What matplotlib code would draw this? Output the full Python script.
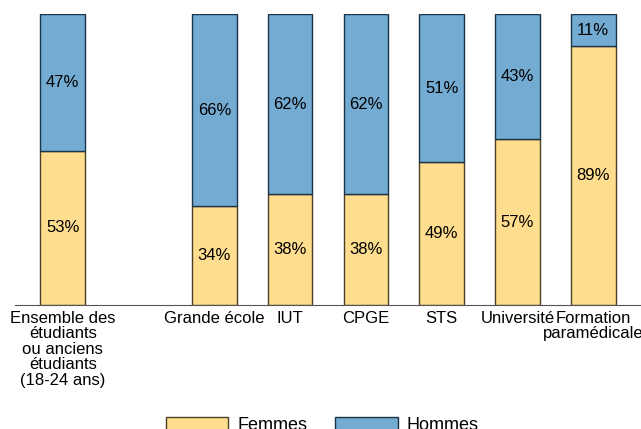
import matplotlib
matplotlib.use("Agg")
import matplotlib.pyplot as plt

plt.rcParams['font.family'] = ['Liberation Sans', 'DejaVu Sans']

categories = ["Ensemble des\nétudiants\nou anciens\nétudiants\n(18-24 ans)",
              "Grande école", "IUT", "CPGE", "STS", "Université",
              "Formation\nparamédicale"]
positions = [0, 2, 3, 4, 5, 6, 7]
femmes = [53, 34, 38, 38, 49, 57, 89]
hommes = [47, 66, 62, 62, 51, 43, 11]

fig = plt.figure(figsize=(6.41, 4.29), dpi=100)
ax = fig.add_axes([15 / 641, 124 / 429, 1 - 15 / 641, 291 / 429])

w = 0.59
b1 = ax.bar(positions, femmes, w, color="#ffdd8e", edgecolor="#4a3f25",
            linewidth=1, label="Femmes")
b2 = ax.bar(positions, hommes, w, bottom=femmes, color="#74abd2",
            edgecolor="#1a3346", linewidth=1, label="Hommes")

for x, f, h in zip(positions, femmes, hommes):
    ax.text(x, f / 2, f"{f}%", ha="center", va="center", fontsize=12)
    ax.text(x, f + h / 2, f"{h}%", ha="center", va="center", fontsize=12)

ax.set_xlim(-0.63, 7.63)
ax.set_ylim(0, 100)
ax.set_xticks(positions)
ax.set_xticklabels(categories, fontsize=12, linespacing=1.05)
ax.tick_params(axis="x", length=0, pad=4)
ax.set_yticks([])
for s in ["top", "right", "left"]:
    ax.spines[s].set_visible(False)
ax.spines["bottom"].set_color("#555555")

fig.legend(handles=[b1, b2], loc="center", bbox_to_anchor=(0.503, 4 / 429),
           ncol=2, frameon=False, fontsize=13, handlelength=3.45,
           handleheight=0.7, handletextpad=0.5, columnspacing=1.55)

fig.savefig("out.png", dpi=100)
